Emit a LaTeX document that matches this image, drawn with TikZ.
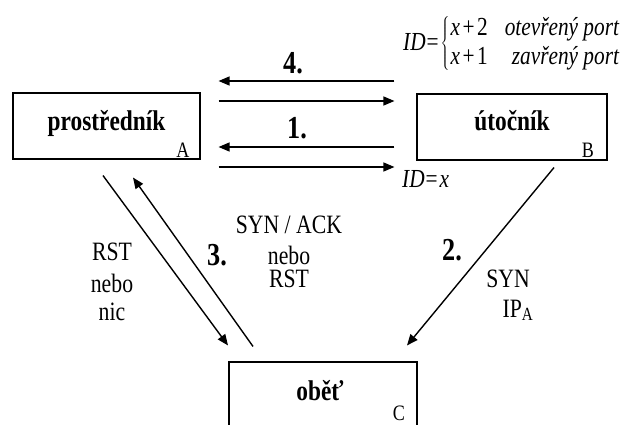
\documentclass[tikz,border=0pt]{standalone}
\usepackage{fontspec}
\setmainfont{Liberation Serif}[FakeStretch=0.82]
\usetikzlibrary{arrows.meta,calc}
\begin{document}
\begin{tikzpicture}[x=1pt,y=-1pt,
  box/.style={draw, line width=1.1pt, minimum height=66pt, inner sep=0pt},
  arr/.style={line width=1.4pt, -{Triangle[length=11pt,width=9pt]}},
  lbl/.style={font=\fontsize{28.5}{32}\selectfont\bfseries, inner sep=0pt, anchor=base},
  num/.style={font=\fontsize{32}{34}\selectfont\bfseries, inner sep=0pt, anchor=base},
  txt/.style={font=\fontsize{26.5}{30}\selectfont, inner sep=0pt, anchor=base},
  tag/.style={font=\fontsize{22}{24}\selectfont, inner sep=0pt, anchor=base},
  eqn/.style={font=\fontsize{26}{29.5}\selectfont, inner sep=0pt}]
\useasboundingbox (0,0) rectangle (623,425);
\clip (0,0) rectangle (623,425);

% the three parties
\node[box, minimum width=187pt] (A) at (106.5,126) {};
\node[box, minimum width=190pt] (B) at (512,127) {};
\node[box, minimum width=188pt] (C) at (323,395) {};

\node[lbl] (Aname) at (106.5,130) {prostředník};
\node[tag] (Atag) at (183,157) {A};
\node[lbl] (Bname) at (512,131) {útočník};
\node[tag] (Btag) at (588,157) {B};
\node[lbl] (Cname) at (320,400) {oběť};
\node[tag] (Ctag) at (399,420) {C};

% horizontal exchanges between A and B
\coordinate (Ar) at ($(A.east)+(18,0)$);
\coordinate (Bl) at ($(B.west)+(-22,0)$);
\draw[arr] (Bl |- 0,81)  -- (Ar |- 0,81);
\draw[arr] (Ar |- 0,101) -- (Bl |- 0,101);
\draw[arr] (Bl |- 0,147) -- (Ar |- 0,147);
\draw[arr] (Ar |- 0,167) -- (Bl |- 0,167);

\node[num] (n4) at (293,74) {4.};
\node[num] (n1) at (297,139) {1.};

% identifier annotations
\newcommand{\plusop}{\kern2.5pt+\kern2.5pt}
\node[eqn, anchor=west] (idtop) at (403,44)
  {{\itshape ID}\kern1pt=\kern2pt$\left\{\kern1pt\begin{tabular}{@{}l@{\hspace{17pt}}r@{}}
     {\itshape x}\plusop 2 & {\itshape otevřený port}\\
     {\itshape x}\plusop 1 & {\itshape zavřený port}
   \end{tabular}\right.$};
\node[eqn, anchor=base west] (idbot) at (402,187)
  {{\itshape ID}\kern1pt=\kern2pt{\itshape x}};

% diagonal exchanges with C
\draw[arr] ($(B.south)+(42,7)$) -- ($(C.north)+(84,-16)$);
\draw[arr] ($(A.south)+(-3.5,16)$) -- ($(C.north)+(-95,-16)$);
\draw[arr] ($(C.north)+(-70,-15)$) -- ($(A.south)+(26.5,18)$);

\node[num] (n2) at (452,260) {2.};
\node[num] (n3) at (217,265) {3.};

\node[txt] (syn) at (508,287) {SYN};
\node[txt] (ipa) at (518,317) {IP\textsubscript{A}};

\node[txt] (rst1) at (112,260) {RST};
\node[txt] (neb1) at (112,292) {nebo};
\node[txt] (nic)  at (112,320) {nic};

\node[txt] (synack) at (289,233) {SYN / ACK};
\node[txt] (neb2)   at (289,264) {nebo};
\node[txt] (rst2)   at (289,287) {RST};
\end{tikzpicture}
\end{document}
